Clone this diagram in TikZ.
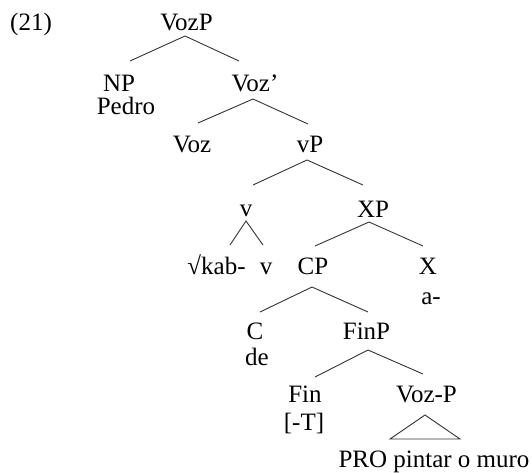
\documentclass[tikz,border=0pt]{standalone}
\usepackage{fontspec}
\setmainfont{Liberation Serif}
\usetikzlibrary{calc}
\begin{document}
\begin{tikzpicture}[x=1pt,y=-1pt,
  lbl/.style={anchor=base,inner sep=0pt,font=\fontsize{25}{30}\selectfont},
  br/.style={draw=black!80,line width=0.9pt}]
\useasboundingbox (0,0) rectangle (532,472);
% labels
\node[lbl] (n21) at (31,30) {(21)};
\node[lbl] (VozP) at (186.5,30) {VozP};
\node[lbl] (NP) at (119,91) {NP};
\node[lbl] (Pedro) at (126,114) {Pedro};
\node[lbl] (Vozb) at (255,91) {Voz’};
\node[lbl] (Voz) at (192,152) {Voz};
\node[lbl] (vP) at (310,152) {vP};
\node[lbl] (v) at (246,216) {v};
\node[lbl] (XP) at (373,217) {XP};
\node[lbl] (kab) at (216.5,274) {√kab-};
\node[lbl] (vv) at (266,274) {v};
\node[lbl] (CP) at (313,274) {CP};
\node[lbl] (X) at (428,274) {X};
\node[lbl] (a) at (431,304) {a-};
\node[lbl] (C) at (255,339) {C};
\node[lbl] (de) at (257,365) {de};
\node[lbl] (FinP) at (366.5,339) {FinP};
\node[lbl] (Fin) at (305,402) {Fin};
\node[lbl] (T) at (304,430) {[-T]};
\node[lbl] (VozPP) at (426.5,402) {Voz-P};
\node[lbl] (PRO) at (434,467) {PRO pintar o muro};
% branches
\draw[br] ($(NP.base)+(11,-30)$) -- ($(VozP.base)+(-1.5,6)$) -- ($(Vozb.base)+(-16,-30)$);
\draw[br] ($(Voz.base)+(6,-29)$) -- ($(Vozb.base)+(-2,8)$) -- ($(vP.base)+(-2,-28)$);
\draw[br] ($(v.base)+(7,-31)$) -- ($(vP.base)+(-3,8)$) -- ($(XP.base)+(-10,-32)$);
\draw[br] ($(kab.base)+(13.5,-29)$) -- ($(v.base)+(0,5)$) -- ($(vv.base)+(-3,-29)$);
\draw[br] ($(CP.base)+(2,-28)$) -- ($(XP.base)+(-4,5)$) -- ($(X.base)+(-5,-28)$);
\draw[br] ($(C.base)+(5,-27)$) -- ($(CP.base)+(-1,13)$) -- ($(FinP.base)+(1.5,-27)$);
\draw[br] ($(Fin.base)+(10,-25)$) -- ($(FinP.base)+(1.5,11)$) -- ($(VozPP.base)+(-3.5,-28)$);
\draw[br] ($(VozPP.base)+(-1.5,13)$) -- ($(VozPP.base)+(-36.5,37)$) -- ($(VozPP.base)+(33.5,37)$) -- cycle;
\end{tikzpicture}
\end{document}
